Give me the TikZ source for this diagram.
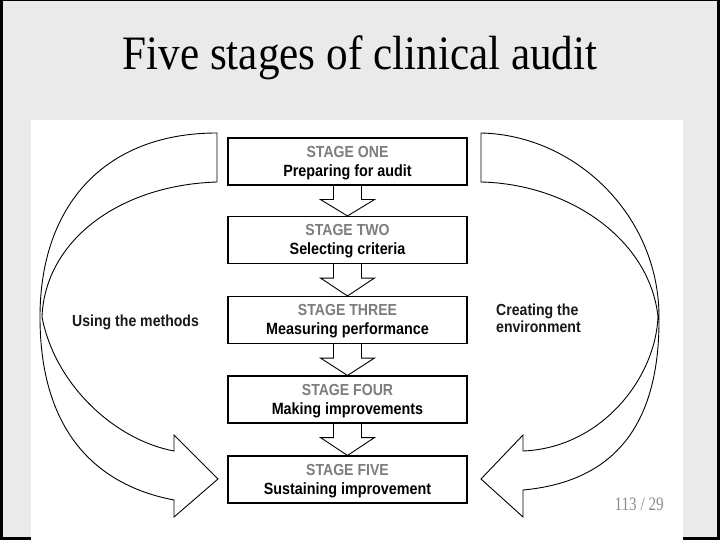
\documentclass[tikz,border=0pt]{standalone}
\usepackage{fontspec}
\setmainfont{Liberation Serif}
\newfontfamily\sansn[FakeStretch=0.88]{Liberation Sans}
\newfontfamily\titlef[FakeStretch=0.9]{Liberation Serif}
\newfontfamily\pagef[FakeStretch=0.8]{Liberation Serif}
\usetikzlibrary{calc}
\definecolor{bggray}{RGB}{234,234,234}
\definecolor{stagegray}{RGB}{125,125,125}
\definecolor{pagegray}{RGB}{140,140,140}
\begin{document}
\begin{tikzpicture}[x=1pt,y=-1pt,
  stagebox/.style={draw,line width=1.1pt,fill=white,minimum width=239pt,minimum height=47pt,inner sep=0pt},
  stagehead/.style={font=\sansn\bfseries\fontsize{16}{19}\selectfont,text=stagegray,anchor=base,inner sep=0pt},
  stagename/.style={font=\sansn\bfseries\fontsize{16.3}{19}\selectfont,text=black,anchor=base,inner sep=0pt},
  flowarrow/.style={draw,line width=0.9pt,line join=miter},
  bigarrow/.style={draw,line width=0.9pt,line join=miter},
  lbl/.style={font=\sansn\bfseries\fontsize{16}{14.5}\selectfont,inner sep=0pt,text=black!90}]
\useasboundingbox (0,0) rectangle (720,540);
% slide background and frame
\fill[bggray] (0,0) rectangle (720,540);
\fill[black] (0,0) rectangle (3,540);
\fill[black] (0,0) rectangle (720,1);
\fill[black] (717,0) rectangle (720,540);
\fill[black] (0,537) rectangle (720,540);
\fill[white] (31,120) rectangle (683,540);
% title
\node[font=\titlef\fontsize{48}{52}\selectfont,anchor=base,inner sep=0pt] (title) at (360,70) {Five stages of clinical audit};
% stage boxes
\node[stagebox] (b1) at (347.5,161.5) {};
\node[stagebox] (b2) at (347.5,240) {};
\node[stagebox] (b3) at (347.5,320) {};
\node[stagebox] (b4) at (347.5,399.5) {};
\node[stagebox] (b5) at (347.5,479.5) {};
\node[stagehead] (h1) at ($(b1.north)+(0,20)$) {STAGE ONE};
\node[stagename] (n1) at ($(b1.north)+(0,39)$) {Preparing for audit};
\node[stagehead] (h2) at ($(b2.north)+(0,20)$) {STAGE TWO};
\node[stagename] (n2) at ($(b2.north)+(0,39)$) {Selecting criteria};
\node[stagehead] (h3) at ($(b3.north)+(0,20)$) {STAGE THREE};
\node[stagename] (n3) at ($(b3.north)+(0,39)$) {Measuring performance};
\node[stagehead] (h4) at ($(b4.north)+(0,20)$) {STAGE FOUR};
\node[stagename] (n4) at ($(b4.north)+(0,39)$) {Making improvements};
\node[stagehead] (h5) at ($(b5.north)+(0,20)$) {STAGE FIVE};
\node[stagename] (n5) at ($(b5.north)+(0,39)$) {Sustaining improvement};
% block arrows between stages
\foreach \a/\b in {b1/b2,b2/b3,b3/b4,b4/b5}{
  \draw[flowarrow] ($(\a.south)+(-14,0)$) -- ($(\a.south)+(-14,14)$) -- ($(\a.south)+(-27,14)$)
    -- (\b.north) -- ($(\a.south)+(27,14)$) -- ($(\a.south)+(14,14)$) -- ($(\a.south)+(14,0)$);
}
% left curved arrow
\draw[bigarrow] (217,133) -- (217,182) .. controls (120,185) and (45,240) .. (42,317)
  .. controls (55,385) and (115,440) .. (174,451) -- (174,435) -- (218,479) -- (174,517) -- (174,500)
  .. controls (95,485) and (40,430) .. (40,317) .. controls (40,205) and (105,133) .. (217,133) -- cycle;
% right curved arrow
\draw[bigarrow] (481,133) -- (481,182) .. controls (570,184) and (650,240) .. (658,317)
  .. controls (655,380) and (600,448) .. (523,451) -- (523,435) -- (481,479) -- (523,517) -- (523,490)
  .. controls (610,482) and (660,430) .. (659,317) .. controls (659,215) and (575,135) .. (481,133) -- cycle;
% labels
\node[lbl,anchor=base west] (using) at (72,326) {Using the methods};
\node[lbl,anchor=base west] (creating) at (496,315) {Creating the};
\node[lbl,anchor=base west] (environment) at (496,332) {environment};
\node[font=\pagef\fontsize{19}{20}\selectfont,text=pagegray,anchor=base east,inner sep=0pt] (page) at (664,510) {113 / 29};
\end{tikzpicture}
\end{document}
